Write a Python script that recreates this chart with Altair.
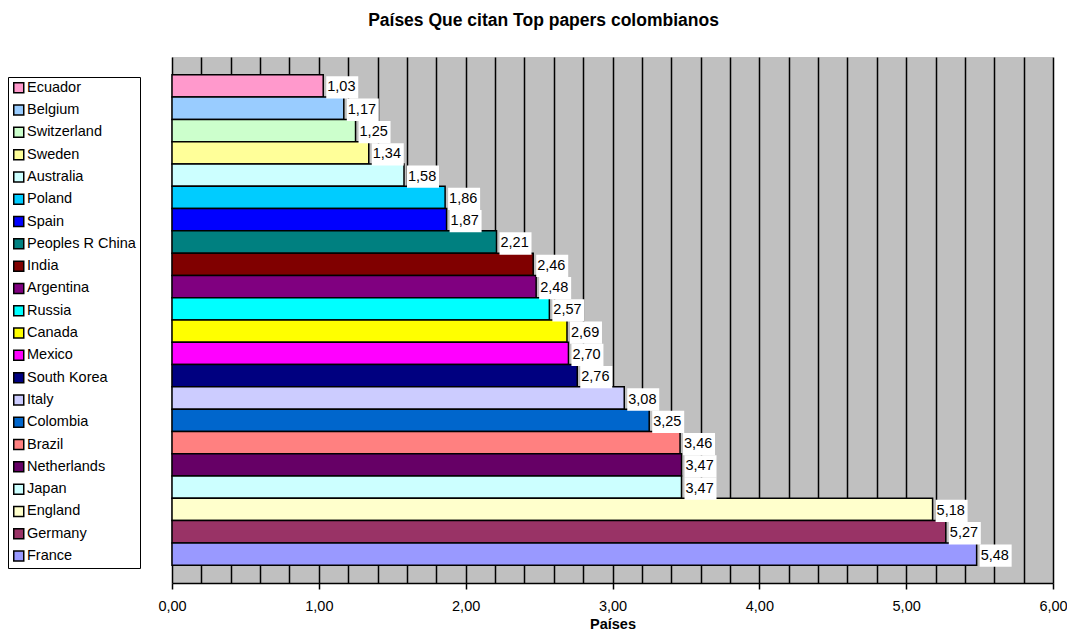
import altair as alt
import pandas as pd

countries = ["Ecuador", "Belgium", "Switzerland", "Sweden", "Australia", "Poland", "Spain",
             "Peoples R China", "India", "Argentina", "Russia", "Canada", "Mexico", "South Korea",
             "Italy", "Colombia", "Brazil", "Netherlands", "Japan", "England", "Germany", "France"]
values = [1.03, 1.17, 1.25, 1.34, 1.58, 1.86, 1.87, 2.21, 2.46, 2.48, 2.57, 2.69, 2.70, 2.76,
          3.08, 3.25, 3.46, 3.47, 3.47, 5.18, 5.27, 5.48]
colors = ["#FF99CC", "#99CCFF", "#CCFFCC", "#FFFF99", "#CCFFFF", "#00CCFF", "#0000FF",
          "#008080", "#800000", "#800080", "#00FFFF", "#FFFF00", "#FF00FF", "#000080",
          "#CCCCFF", "#0066CC", "#FF8080", "#660066", "#CCFFFF", "#FFFFCC", "#993366", "#9999FF"]
labels = [f"{v:.2f}".replace(".", ",") for v in values]

df = pd.DataFrame({"country": countries, "value": values, "label": labels})

grid_values = [round(i * 0.2, 1) for i in range(31)]
is_int = "abs(datum.value - round(datum.value)) < 0.001"

FONT = "Liberation Sans"

x_scale = alt.Scale(domain=[0, 6], nice=False, zero=True)
y_scale = alt.Scale(domain=countries, paddingInner=0, paddingOuter=0.8)

x_axis = alt.Axis(
    values=grid_values, tickCount=100,
    grid=True, gridColor="black", gridWidth=1.5, gridOpacity=1,
    domain=True, domainColor="black", domainWidth=1.5,
    ticks=True, tickColor="black", tickWidth=1.5, tickSize=6,
    tickOpacity={"condition": {"test": is_int, "value": 1}, "value": 0},
    labelExpr=f"{is_int} ? replace(format(datum.value, '.2f'), '.', ',') : ''",
    labelOverlap=False, labelFlush=False, labelPadding=10,
    labelFont=FONT, labelFontSize=14.5, labelColor="black",
    title="Países", titleFont=FONT, titleFontSize=14.5, titleFontWeight="bold",
    titleColor="black", titlePadding=5,
)

base = alt.Chart(df)

bars = base.mark_bar(stroke="black", strokeWidth=1.5, opacity=1).encode(
    x=alt.X("value:Q", scale=x_scale, axis=x_axis),
    y=alt.Y("country:N", scale=y_scale, axis=None),
    color=alt.Color("country:N",
                    scale=alt.Scale(domain=countries, range=colors),
                    legend=alt.Legend(
                        title=None, orient="none", legendX=-164, legendY=20,
                        symbolType="square", symbolSize=100,
                        symbolStrokeColor="black", symbolStrokeWidth=1.5,
                        labelFont=FONT, labelFontSize=14.5, labelColor="black",
                        labelOffset=1, rowPadding=5.3, padding=3.5,
                        strokeColor="black", fillColor="white",
                        labelLimit=200,
                    )),
)

boxes = base.mark_rect(color="white", xOffset=3, x2Offset=35, yOffset=1.5, y2Offset=0).encode(
    x=alt.X("value:Q", scale=x_scale),
    x2="value:Q",
    y=alt.Y("country:N", scale=y_scale),
)

texts = base.mark_text(align="left", baseline="middle", dx=4, dy=1.5,
                       font=FONT, fontSize=14.5, color="black").encode(
    x=alt.X("value:Q", scale=x_scale),
    y=alt.Y("country:N", scale=y_scale),
    text="label:N",
)

chart = alt.layer(bars, boxes, texts).properties(
    width=881, height=526,
    autosize=alt.AutoSizeParams(type="none"),
    padding={"left": 164, "top": 49, "right": 14, "bottom": 51},
    background="white",
    title=alt.Title("Países Que citan Top papers colombianos", font=FONT, fontSize=17.5,
                    fontWeight="bold", color="black", anchor="middle", dx=-69, offset=28),
).configure_view(stroke=None, fill="#C0C0C0")

chart.save("out.html", embed_options={"renderer": "svg", "actions": False})
